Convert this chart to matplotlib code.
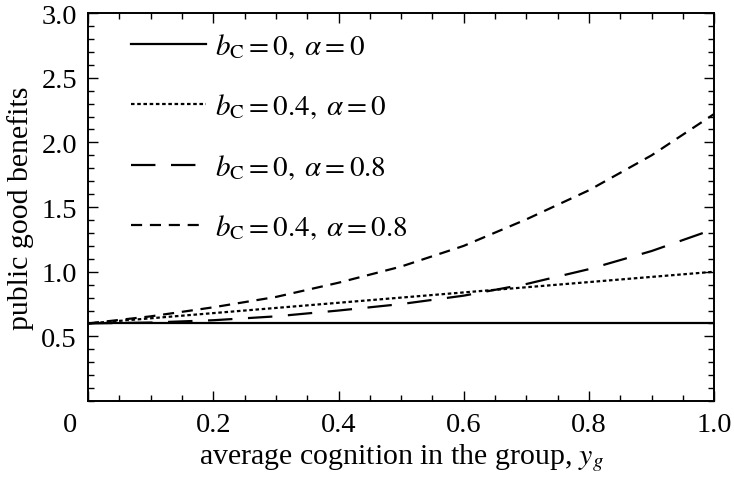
import matplotlib
matplotlib.use('Agg')
import matplotlib.pyplot as plt
from matplotlib.ticker import MultipleLocator
from matplotlib.transforms import ScaledTranslation

plt.rcParams['font.family'] = 'Liberation Serif'
plt.rcParams['mathtext.fontset'] = 'stix'

# values
y_g = [0.0, 0.1, 0.2, 0.3, 0.4, 0.5, 0.6, 0.7, 0.8, 0.9, 1.0]
b0_a0 = [0.60, 0.60, 0.60, 0.60, 0.60, 0.60, 0.60, 0.60, 0.60, 0.60, 0.60]
b04_a0 = [0.60, 0.64, 0.68, 0.72, 0.76, 0.80, 0.84, 0.88, 0.92, 0.96, 1.00]
b0_a08 = [0.600, 0.607, 0.625, 0.655, 0.700, 0.750, 0.815, 0.905, 1.020, 1.160, 1.330]
b04_a08 = [0.600, 0.655, 0.725, 0.805, 0.915, 1.040, 1.200, 1.405, 1.630, 1.900, 2.220]

labels = [r'$b_{\mathrm{C}} = 0,\;\alpha = 0$',
          r'$b_{\mathrm{C}} = 0.4,\;\alpha = 0$',
          r'$b_{\mathrm{C}} = 0,\;\alpha = 0.8$',
          r'$b_{\mathrm{C}} = 0.4,\;\alpha = 0.8$']

fig = plt.figure(figsize=(7.34, 4.85), dpi=100)
ax = fig.add_axes([0.12, 0.171, 0.853, 0.800])

ax.plot(y_g, b0_a0, color='black', linewidth=1.6, label=labels[0])
ax.plot(y_g, b04_a0, color='black', linewidth=1.6, linestyle=(0, (1.6, 1.2)), label=labels[1])
ax.plot(y_g, b0_a08, color='black', linewidth=1.6, linestyle=(0, (11, 7)), label=labels[2])
ax.plot(y_g, b04_a08, color='black', linewidth=1.6, linestyle=(0, (5, 3.5)), label=labels[3])

ax.set_xlim(0, 1.0)
ax.set_ylim(0, 3.0)
ax.xaxis.set_minor_locator(MultipleLocator(0.05))
ax.yaxis.set_minor_locator(MultipleLocator(0.1))
ax.set_xticks([0, 0.2, 0.4, 0.6, 0.8, 1.0])
ax.set_xticklabels(['0', '0.2', '0.4', '0.6', '0.8', '1.0'])
ax.set_yticks([0.5, 1.0, 1.5, 2.0, 2.5, 3.0])
ax.set_yticklabels(['0.5', '1.0', '1.5', '2.0', '2.5', '3.0'])
ax.tick_params(which='both', direction='in', top=True, right=True, labelsize=20.5, width=1.0)
ax.tick_params(which='major', length=7, pad=8)
ax.tick_params(which='minor', length=4)
for s in ax.spines.values():
    s.set_linewidth(1.4)

# the "0" sits left of the corner
lab0 = ax.get_xticklabels()[0]
lab0.set_transform(lab0.get_transform() + ScaledTranslation(-0.18, 0, fig.dpi_scale_trans))

ax.set_xlabel(r'average cognition in the group, $y_g$', fontsize=21.5, labelpad=3)
ax.set_ylabel('public good benefits', fontsize=21.5, labelpad=5)

ax.legend(loc='upper left', frameon=False, fontsize=21, handlelength=2.6,
          labelspacing=1.08, handletextpad=0.3, borderaxespad=0.2,
          bbox_to_anchor=(0.04, 0.998))

fig.savefig('out.png', dpi=100)
